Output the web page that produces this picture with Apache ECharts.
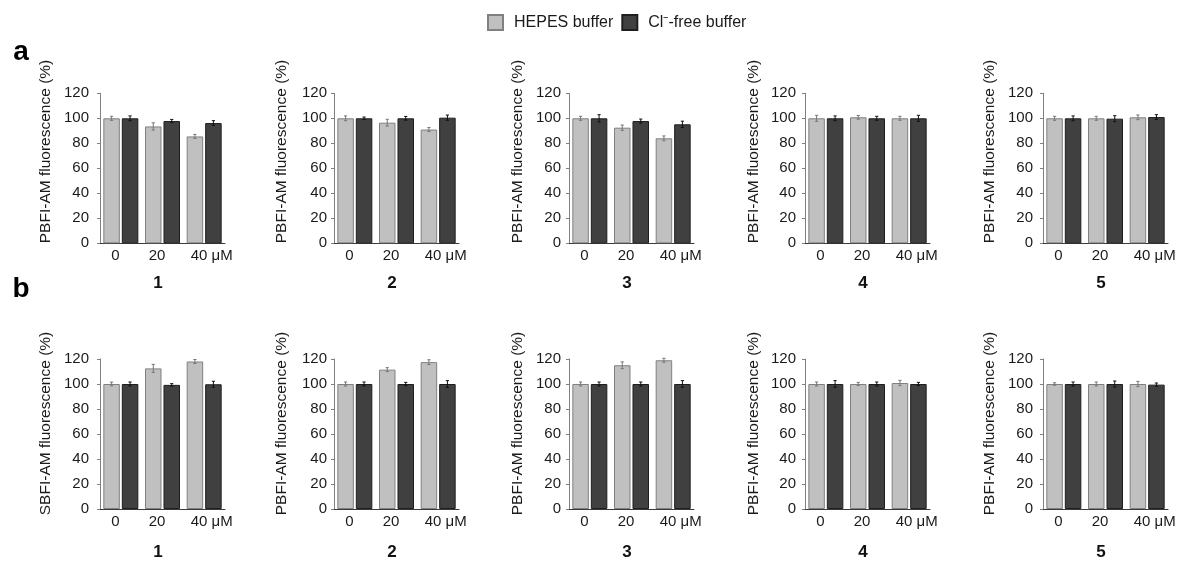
<!DOCTYPE html>
<html>
<head>
<meta charset="utf-8">
<script src="https://cdn.jsdelivr.net/npm/echarts@6/dist/echarts.min.js"></script>
<style>
  html, body { margin: 0; padding: 0; background: #ffffff; }
  #chart { width: 1185px; height: 561px; }
</style>
</head>
<body>
<div id="chart"></div>
<script>
// ---- data ----
const categories = ['0', '20', '40 μM'];
const compounds = ['1', '2', '3', '4', '5'];
const seriesNames = ['HEPES buffer', 'Cl\u207B-free buffer'];
const rowLetters = ['a', 'b'];
const yTitlesA = ['PBFI-AM fluorescence (%)', 'PBFI-AM fluorescence (%)', 'PBFI-AM fluorescence (%)', 'PBFI-AM fluorescence (%)', 'PBFI-AM fluorescence (%)'];
const yTitlesB = ['SBFI-AM fluorescence (%)', 'PBFI-AM fluorescence (%)', 'PBFI-AM fluorescence (%)', 'PBFI-AM fluorescence (%)', 'PBFI-AM fluorescence (%)'];

// row a
const hepesA = [[100, 93.5, 85.5], [100, 96.5, 91], [100, 92.5, 84], [100, 100.8, 100], [100, 100, 100.8]];
const hepesAErr = [[1.6, 2.9, 1.6], [1.9, 2.7, 1.6], [1.6, 2.1, 1.9], [2.4, 1.5, 1.6], [1.6, 1.6, 1.9]];
const clFreeA = [[100, 97.8, 96.2], [100, 100, 100.5], [100, 97.8, 95.2], [100, 100, 100], [100, 99.7, 101]];
const clFreeAErr = [[1.9, 1.3, 1.9], [1.0, 1.5, 2.1], [2.9, 1.6, 2.5], [1.9, 1.6, 2.4], [1.9, 2.4, 1.9]];
// row b
const hepesB = [[100, 112.5, 118], [100, 111.5, 117.5], [100, 115, 119], [100, 100, 100.8], [100, 100, 100]];
const hepesBErr = [[1.5, 3.2, 1.6], [1.6, 1.6, 1.9], [1.6, 2.7, 1.6], [1.6, 1.3, 2.1], [1.0, 1.6, 2.1]];
const clFreeB = [[100, 99.3, 99.8], [100, 100, 100], [100, 100, 100], [100, 100, 100], [100, 100, 99.5]];
const clFreeBErr = [[1.6, 1.0, 2.4], [1.6, 1.3, 2.7], [1.6, 1.6, 2.7], [2.7, 1.6, 1.3], [1.6, 2.4, 1.3]];

// ---- layout ----
const FONT = '"Liberation Sans", Arial, Helvetica, sans-serif';
const colLeft = [100, 334, 569, 805, 1043];
const labelMargin = [11, 7, 8, 9, 10];
const titleX = [45.5, 281.5, 518, 754, 989.5];
const rowTop = [93.3, 359];
const rowTitleY = [151.5, 423.5];
const rowNumberY = [283, 552];
const rowLetterY = [52, 289];
const PLOT_W = 125, PLOT_H = 150;
const CAT_GAP = 0.16, BAR_GAP = 0.12;

const fills = ['#c0c0c0', '#404040'];
const borders = ['#808080', '#1e1e1e'];
const errColors = ['#777777', '#111111'];

const rows = [
  { values: [hepesA, clFreeA], errs: [hepesAErr, clFreeAErr], titles: yTitlesA },
  { values: [hepesB, clFreeB], errs: [hepesBErr, clFreeBErr], titles: yTitlesB }
];

// error bar with small caps, placed over bar k of each category group
function errorRenderer(k) {
  return function (params, api) {
    const ci = api.value(0), v = api.value(1), e = api.value(2);
    const band = api.size([1, 0])[0];
    const usable = band * (1 - CAT_GAP);
    const bw = usable / (2 + BAR_GAP);
    const base = api.coord([ci, v]);
    const x = base[0] - usable / 2 + bw / 2 + k * bw * (1 + BAR_GAP);
    const yTop = api.coord([ci, v + e])[1];
    const yBot = api.coord([ci, v - e])[1];
    const cap = 1.6;
    const style = { stroke: errColors[k], lineWidth: 1 };
    return {
      type: 'group',
      children: [
        { type: 'line', shape: { x1: x, y1: yTop, x2: x, y2: yBot }, style: style },
        { type: 'line', shape: { x1: x - cap, y1: yTop, x2: x + cap, y2: yTop }, style: style },
        { type: 'line', shape: { x1: x - cap, y1: yBot, x2: x + cap, y2: yBot }, style: style }
      ]
    };
  };
}

const grid = [], xAxis = [], yAxis = [], series = [], graphic = [];

rows.forEach(function (row, r) {
  compounds.forEach(function (cmp, c) {
    const idx = r * 5 + c;
    grid.push({ left: colLeft[c], top: rowTop[r], width: PLOT_W, height: PLOT_H, containLabel: false });
    xAxis.push({
      type: 'category', gridIndex: idx, data: categories,
      axisLine: { lineStyle: { color: '#3a3a3a', width: 1 } },
      axisTick: { alignWithLabel: true, length: 2, lineStyle: { color: '#3a3a3a' } },
      axisLabel: {
        interval: 0, hideOverlap: false,
        margin: 5, color: '#1a1a1a', fontFamily: FONT, fontSize: 15,
        formatter: function (val, i) {
          return i === 2 ? '{g2| }{t|' + val + '}' : '{t|' + val + '}{g| }';
        },
        rich: {
          t: { fontFamily: FONT, fontSize: 15, color: '#1a1a1a' },
          g: { width: 11 },
          g2: { width: 15 }
        }
      }
    });
    yAxis.push({
      type: 'value', gridIndex: idx, min: 0, max: 120, interval: 20,
      splitLine: { show: false },
      axisLine: { show: true, lineStyle: { color: '#808080', width: 1 } },
      axisTick: { show: true, length: 3, lineStyle: { color: '#808080' } },
      axisLabel: { margin: labelMargin[c], color: '#1a1a1a', fontFamily: FONT, fontSize: 15 }
    });
    [0, 1].forEach(function (k) {
      series.push({
        name: seriesNames[k], type: 'bar', xAxisIndex: idx, yAxisIndex: idx,
        data: row.values[k][c],
        barCategoryGap: (CAT_GAP * 100) + '%', barGap: (BAR_GAP * 100) + '%',
        itemStyle: { color: fills[k], borderColor: borders[k], borderWidth: 1 },
        silent: true, animation: false
      });
    });
    [0, 1].forEach(function (k) {
      series.push({
        type: 'custom', xAxisIndex: idx, yAxisIndex: idx, z: 5,
        data: row.values[k][c].map(function (v, i) { return [i, v, row.errs[k][c][i]]; }),
        encode: { x: 0, y: 1 },
        renderItem: errorRenderer(k),
        silent: true, animation: false
      });
    });
    // rotated y-axis title
    graphic.push({
      type: 'text', x: titleX[c], y: rowTitleY[r], rotation: Math.PI / 2,
      style: {
        text: row.titles[c], font: '15.5px ' + FONT, fill: '#1a1a1a',
        align: 'center', verticalAlign: 'middle'
      }
    });
    // compound number under each panel
    graphic.push({
      type: 'text', x: colLeft[c] + 58, y: rowNumberY[r],
      style: {
        text: cmp, font: 'bold 17px ' + FONT, fill: '#111111',
        align: 'center', verticalAlign: 'middle'
      }
    });
  });
  graphic.push({
    type: 'text', x: 21, y: rowLetterY[r],
    style: {
      text: rowLetters[r], font: 'bold 28px ' + FONT, fill: '#000000',
      align: 'center', verticalAlign: 'middle'
    }
  });
});

const chart = echarts.init(document.getElementById('chart'), null, { renderer: 'canvas' });
chart.setOption({
  backgroundColor: '#ffffff',
  animation: false,
  legend: {
    data: seriesNames, left: 482, top: 9, padding: 5,
    icon: 'rect',
    itemWidth: 15, itemHeight: 15, itemGap: 8,
    textStyle: { fontFamily: FONT, fontSize: 16, color: '#1a1a1a', padding: [0, 0, 0, 6] },
    selectedMode: false
  },
  grid: grid, xAxis: xAxis, yAxis: yAxis, series: series, graphic: graphic
});
</script>
</body>
</html>
